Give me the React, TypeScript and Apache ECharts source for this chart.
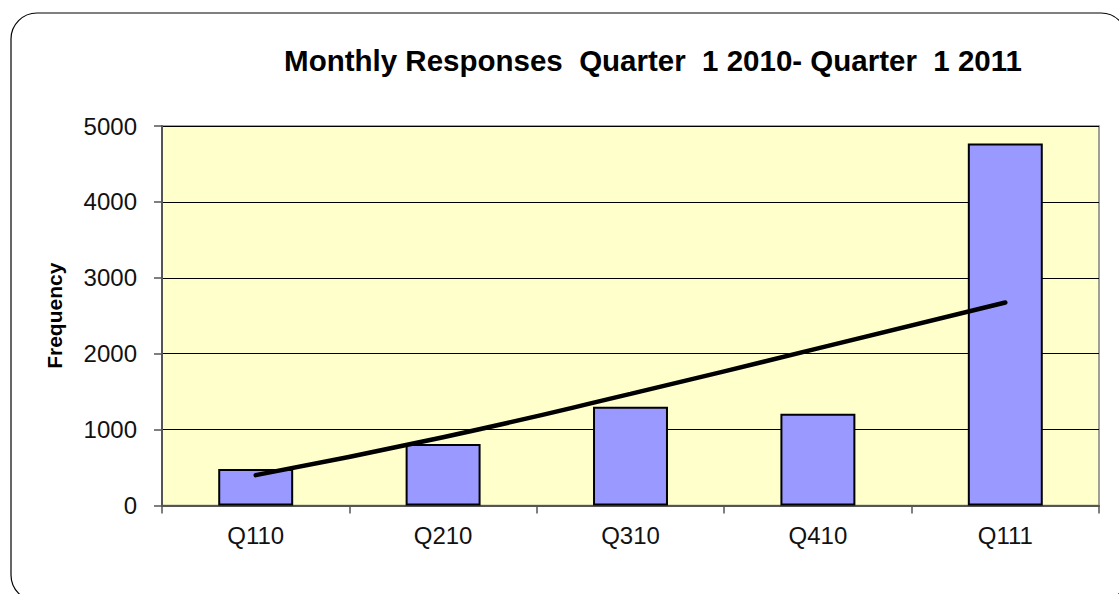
import React, { useEffect, useRef } from "react";
import * as echarts from "echarts";

const categories = ["Q110", "Q210", "Q310", "Q410", "Q111"];
const responses = [480, 810, 1300, 1210, 4770];
const trend = [400, 900, 1470, 2070, 2675];
const yTicks = { min: 0, max: 5000, interval: 1000 };
const titleText = "Monthly Responses  Quarter  1 2010- Quarter  1 2011";
const yName = "Frequency";

export default function App() {
  const ref = useRef<HTMLDivElement>(null);
  useEffect(() => {
    if (!ref.current) return;
    const chart = echarts.init(ref.current, undefined, { renderer: "svg" });
    chart.setOption({
      animation: false,
      backgroundColor: "#ffffff",
      textStyle: { fontFamily: "Liberation Sans, Arial, sans-serif" },
      graphic: [
        {
          type: "rect",
          shape: { x: 11, y: 13, width: 1116, height: 588, r: 26 },
          style: { fill: "none", stroke: "#000000", lineWidth: 1.2 },
          silent: true,
          z: -1,
        },
      ],
      title: {
        text: titleText,
        left: 648,
        top: 40,
        textAlign: "center",
        textStyle: {
          fontFamily: "Liberation Sans, Arial, sans-serif",
          fontWeight: "bold",
          fontSize: 29.5,
          color: "#000000",
        },
      },
      grid: {
        left: 162,
        right: 20,
        top: 126,
        bottom: 88.5,
        show: true,
        backgroundColor: "#FFFFCC",
        borderColor: "#808080",
        borderWidth: 1.5,
      },
      xAxis: {
        type: "category",
        data: categories,
        boundaryGap: true,
        axisLine: { show: true, lineStyle: { color: "#555555", width: 2 } },
        axisTick: { show: true, length: 8, lineStyle: { color: "#555555", width: 1.5 } },
        axisLabel: {
          fontSize: 24,
          color: "#111111",
          margin: 18,
          fontFamily: "Liberation Sans, Arial, sans-serif",
        },
        splitLine: { show: false },
      },
      yAxis: {
        type: "value",
        min: yTicks.min,
        max: yTicks.max,
        interval: yTicks.interval,
        name: yName,
        nameLocation: "middle",
        nameGap: 97,
        nameRotate: 90,
        nameTextStyle: {
          fontSize: 21,
          fontWeight: "bold",
          color: "#000000",
          fontFamily: "Liberation Sans, Arial, sans-serif",
        },
        axisLine: { show: true, lineStyle: { color: "#555555", width: 2 } },
        axisTick: { show: true, length: 8, lineStyle: { color: "#555555", width: 1.5 } },
        axisLabel: {
          fontSize: 24,
          color: "#111111",
          margin: 25,
          formatter: (v: number) => String(v),
          fontFamily: "Liberation Sans, Arial, sans-serif",
        },
        splitLine: { show: true, lineStyle: { color: "#000000", width: 1.2 } },
      },
      series: [
        {
          type: "bar",
          data: responses,
          barWidth: "40%",
          itemStyle: { color: "#9999FF", borderColor: "#000000", borderWidth: 2 },
          z: 2,
        },
        {
          type: "line",
          data: trend,
          symbol: "none",
          smooth: true,
          lineStyle: { color: "#000000", width: 4.5, cap: "round" },
          z: 3,
        },
      ],
    });
    return () => chart.dispose();
  }, []);
  return (
    <div
      ref={ref}
      style={{ position: "fixed", left: 0, top: 0, width: 1119, height: 594 }}
    />
  );
}
